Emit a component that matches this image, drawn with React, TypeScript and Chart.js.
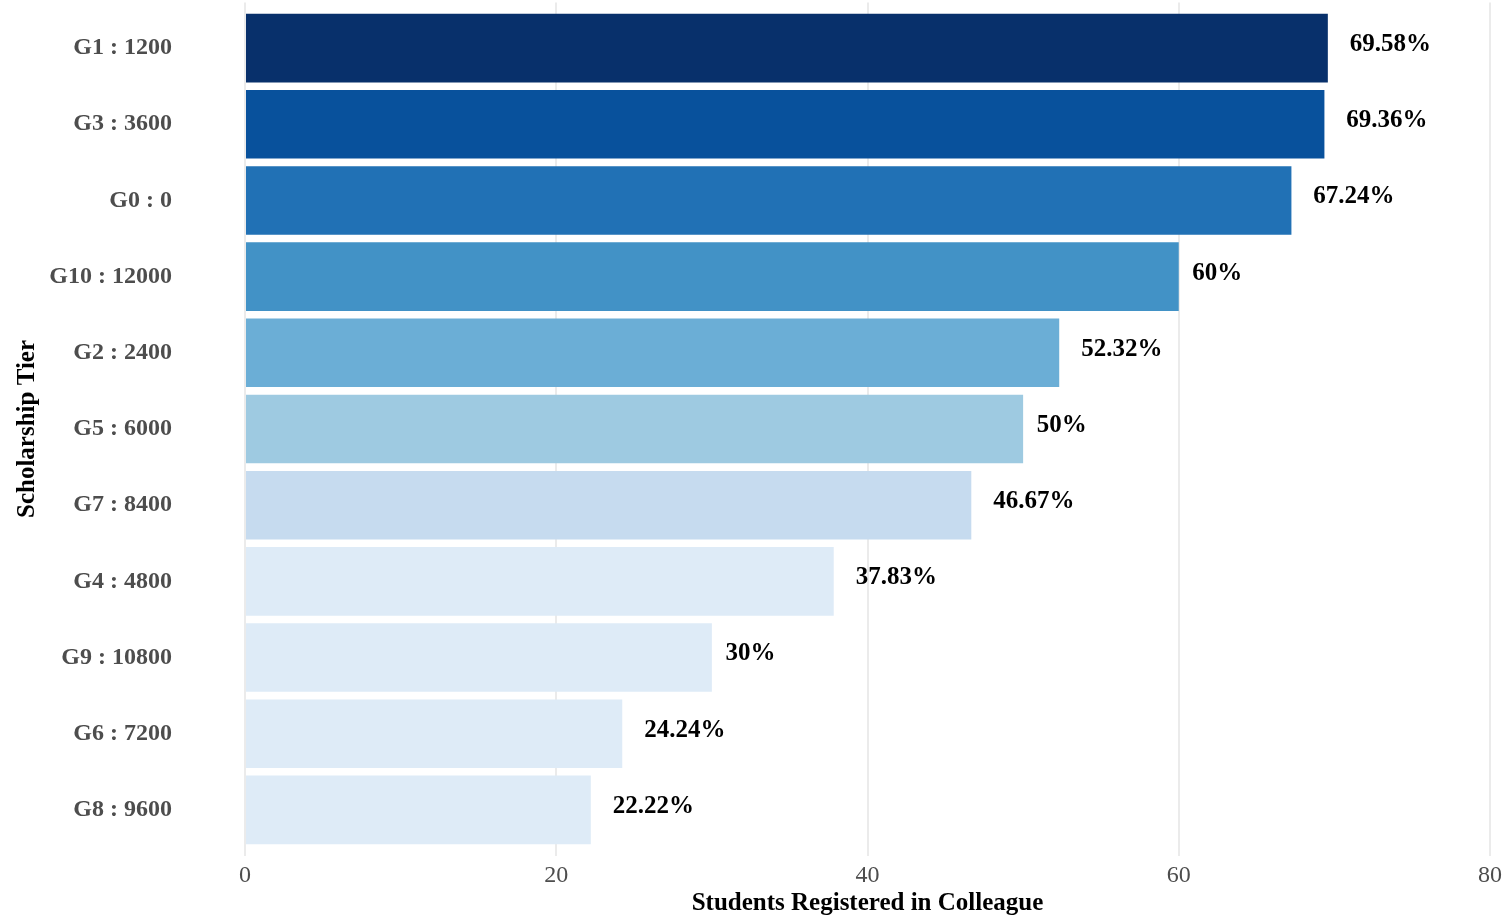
import React, { useEffect, useRef } from "react";
import { Chart, registerables } from "chart.js";

Chart.register(...registerables);

const categories = [
  "G1 : 1200",
  "G3 : 3600",
  "G0 : 0",
  "G10 : 12000",
  "G2 : 2400",
  "G5 : 6000",
  "G7 : 8400",
  "G4 : 4800",
  "G9 : 10800",
  "G6 : 7200",
  "G8 : 9600",
];

const values = [69.58, 69.36, 67.24, 60, 52.32, 50, 46.67, 37.83, 30, 24.24, 22.22];

const barColors = [
  "#08306b",
  "#08519c",
  "#2171b5",
  "#4292c6",
  "#6baed6",
  "#9ecae1",
  "#c6dbef",
  "#deebf7",
  "#deebf7",
  "#deebf7",
  "#deebf7",
];

const xTicks = [0, 20, 40, 60, 80];

const FONT = '"Liberation Serif", "Times New Roman", serif';

const valueLabelPlugin = {
  id: "valueLabels",
  afterDatasetsDraw(chart: any) {
    const ctx = chart.ctx;
    const meta = chart.getDatasetMeta(0);
    ctx.save();
    ctx.font = `bold 25px ${FONT}`;
    ctx.fillStyle = "#000000";
    ctx.textAlign = "left";
    ctx.textBaseline = "middle";
    meta.data.forEach((el: any, i: number) => {
      const text = `${values[i]}%`;
      const w = ctx.measureText(text).width;
      ctx.fillText(text, el.x + 0.27 * w, el.y - 3.5);
    });
    ctx.restore();
  },
};

export default function App() {
  const ref = useRef<HTMLCanvasElement | null>(null);

  useEffect(() => {
    if (!ref.current) return;
    const chart = new Chart(ref.current, {
      type: "bar",
      data: {
        datasets: [
          {
            data: values.map((v, i) => ({ x: v, y: i })),
            backgroundColor: barColors,
            borderWidth: 0,
            categoryPercentage: 1,
            barPercentage: 0.9,
          },
        ],
      },
      options: {
        indexAxis: "y",
        animation: false,
        responsive: false,
        layout: { padding: { top: 2.4, right: 14, left: 0, bottom: 0 } },
        plugins: {
          legend: { display: false },
          tooltip: { enabled: false },
        },
        scales: {
          x: {
            type: "linear",
            min: 0,
            max: 80,
            afterBuildTicks: (scale: any) => {
              scale.ticks = xTicks.map((v) => ({ value: v }));
            },
            afterFit: (scale: any) => {
              scale.height = 61.4;
              scale.paddingLeft = 0;
              scale.paddingRight = 0;
            },
            grid: { color: "#ebebeb", lineWidth: 2, drawTicks: false },
            border: { display: false },
            ticks: {
              padding: 6,
              color: "#4d4d4d",
              font: { family: FONT, size: 24 },
            },
            title: {
              display: true,
              text: "Students Registered in Colleague",
              color: "#000000",
              font: { family: FONT, size: 25, weight: "bold" },
              padding: { top: 0, bottom: -2 },
            },
          },
          y: {
            type: "linear",
            reverse: true,
            offset: false,
            min: -0.6,
            max: 10.6,
            afterBuildTicks: (scale: any) => {
              scale.ticks = categories.map((_, i) => ({ value: i }));
            },
            afterFit: (scale: any) => {
              scale.width = 245;
              scale.paddingTop = 0;
              scale.paddingBottom = 0;
            },
            grid: { display: false, drawTicks: false, offset: false },
            border: { display: false },
            ticks: {
              padding: 73,
              color: "#4d4d4d",
              font: { family: FONT, size: 24, weight: "bold" },
              callback: (v: any) => categories[v as number] ?? "",
            },
            title: {
              display: true,
              text: "Scholarship Tier",
              color: "#000000",
              font: { family: FONT, size: 25, weight: "bold" },
              padding: { top: 13, bottom: 0 },
            },
          },
        },
      },
      plugins: [valueLabelPlugin],
    } as any);
    return () => chart.destroy();
  }, []);

  return (
    <div style={{ position: "absolute", left: 0, top: 0, width: 1504, height: 917, background: "#ffffff" }}>
      <canvas ref={ref} width={1504} height={917} style={{ display: "block" }} />
    </div>
  );
}
